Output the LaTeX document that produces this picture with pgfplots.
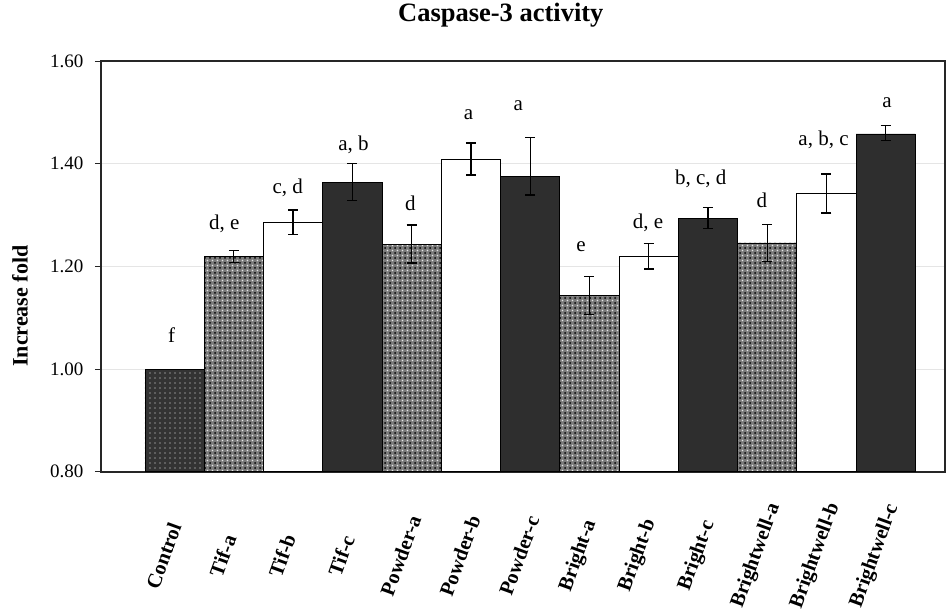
\documentclass[border=0pt]{standalone}
\usepackage{fontspec}
\setmainfont{Liberation Serif}
\usepackage{pgfplots}
\pgfplotsset{compat=1.18}
\usetikzlibrary{patterns.meta}

\newcommand\tickfont{\fontsize{19}{22}\selectfont}
\newcommand\barfont{\fontsize{21}{24}\selectfont}
\newcommand\xlabfont{\fontsize{20.5}{24}\selectfont\bfseries}
\newcommand\titlefont{\fontsize{26.5}{30}\selectfont\bfseries}
\newcommand\ylabfont{\fontsize{22}{26}\selectfont\bfseries}

\pgfplotsset{
  barbase/.style={ybar, bar width=1, bar shift=0pt, draw=black, line width=0.8pt},
  errs/.style={error bars/.cd, y dir=both, y explicit,
    error bar style={line width=1.3pt, black},
    error mark options={rotate=90, mark size=5pt, line width=1.3pt, black}},
}

\begin{document}
\begin{tikzpicture}
\path[use as bounding box] (-101pt,-141.3pt) rectangle (849pt,471.7pt);
\begin{axis}[
  at={(0,0)}, anchor=south west,
  scale only axis, width=844pt, height=410.7pt,
  xmin=-1.2416, xmax=13.0, ymin=0.8, ymax=1.6,
  ytick={0.8,1.0,1.2,1.4,1.6},
  ytick pos=left,
  /pgf/number format/fixed, /pgf/number format/fixed zerofill,
  /pgf/number format/precision=2, /pgf/number format/assume math mode=true,
  yticklabel style={font=\tickfont, xshift=-8pt},
  ymajorgrids, grid style={black!10, line width=0.6pt},
  axis line style={black!85, line width=1.6pt},
  tick align=outside, major tick length=6pt,
  ytick style={black!85, line width=1pt},
  xtick={0,1,2,3,4,5,6,7,8,9,10,11,12},
  xticklabels={Control,Tif-a,Tif-b,Tif-c,Powder-a,Powder-b,Powder-c,Bright-a,Bright-b,Bright-c,Brightwell-a,Brightwell-b,Brightwell-c},
  xtick style={draw=none},
  xticklabel style={font=\xlabfont, anchor=center, xshift=-11pt, yshift=-78pt, rotate=70},
  title={Caspase-3 activity},
  title style={font=\titlefont, at={(rel axis cs:0.4737,1)}, anchor=base, yshift=34pt},
  ylabel={Increase fold},
  every axis y label/.style={at={(axis description cs:0,0.403)}, anchor=center, xshift=-81pt, rotate=90, font=\ylabfont},
  clip=false,
]
% Control
\addplot[barbase, fill=black!80,
  postaction={pattern={Dots[distance=5pt,radius=0.9pt]}, pattern color=black!45}]
  coordinates {(0,1.000)};
% "a" group (crosshatch grey)
\addplot[barbase, fill=black!52,
  postaction={pattern={Dots[distance=5pt,radius=1pt]}, pattern color=black},
  postaction={pattern={Dots[distance=5pt,radius=0.8pt,xshift=2.5pt,yshift=2.5pt]}, pattern color=black!10},
  errs]
  table[x=x, y=y, y error plus=ep, y error minus=em] {
x  y      ep     em
1  1.219  0.012  0.012
4  1.2435 0.037  0.037
7  1.143  0.037  0.037
10 1.2455 0.036  0.036
};
% "b" group (white)
\addplot[barbase, fill=white, errs]
  table[x=x, y=y, y error plus=ep, y error minus=em] {
x  y      ep     em
2  1.286  0.024  0.024
5  1.409  0.031  0.031
8  1.220  0.025  0.025
11 1.342  0.038  0.038
};
% "c" group (dark)
\addplot[barbase, fill=black!82, errs]
  table[x=x, y=y, y error plus=ep, y error minus=em] {
x  y      ep     em
3  1.364  0.036  0.036
6  1.375  0.076  0.036
9  1.293  0.022  0.019
12 1.458  0.017  0.013
};
% significance letters
\begin{scope}[every node/.style={anchor=base, font=\barfont, inner sep=0pt}]
\node at (axis cs:-0.05,1.0507) {f};
\node at (axis cs:0.84,1.272) {d, e};
\node at (axis cs:1.91,1.342) {c, d};
\node at (axis cs:3.02,1.4266) {a, b};
\node at (axis cs:3.98,1.3084) {d};
\node at (axis cs:4.96,1.487) {a};
\node at (axis cs:5.80,1.503) {a};
\node at (axis cs:6.86,1.2285) {e};
\node at (axis cs:7.99,1.274) {d, e};
\node at (axis cs:8.88,1.360) {b, c, d};
\node at (axis cs:9.91,1.314) {d};
\node at (axis cs:10.95,1.436) {a, b, c};
\node at (axis cs:12.02,1.509) {a};
\end{scope}
\end{axis}
\end{tikzpicture}
\end{document}
